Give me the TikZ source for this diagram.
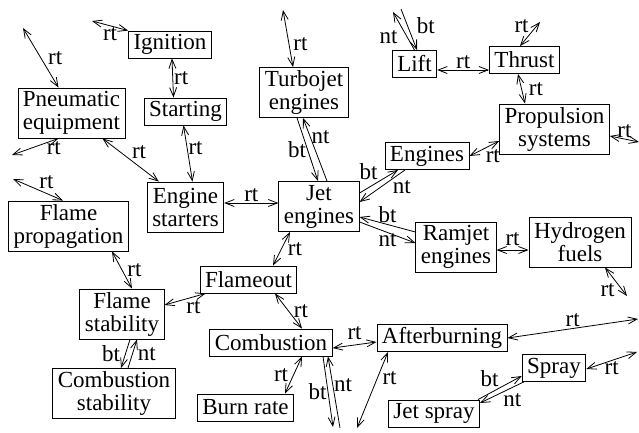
\documentclass[tikz,border=0pt]{standalone}
\usepackage{fontspec}
\setmainfont{Liberation Serif}
\newfontfamily\termfont{Liberation Serif}
\usetikzlibrary{arrows.meta}

\begin{document}
\begin{tikzpicture}[
    x=1pt, y=-1pt,
    font=\termfont\fontsize{23}{23}\selectfont,
    term/.style={
        draw, line width=0.9pt, rectangle, align=center,
        inner xsep=5pt, inner ysep=2pt, minimum height=27pt,
    },
    twoline/.style={term, minimum height=50pt},
    rel/.style={{Straight Barb[length=9pt,width=7pt]}-{Straight Barb[length=9pt,width=7pt]}, line width=0.8pt},
    one/.style={-{Straight Barb[length=9pt,width=7pt]}, line width=0.8pt},
    lbl/.style={inner sep=1pt},
]
\useasboundingbox (0,0) rectangle (639,432);

% ===== Terms =====
\node[term]    (ign)      at (170,44.5)  {Ignition};
\node[twoline] (pneu)     at (71.5,113)  {Pneumatic\\equipment};
\node[term]    (start)    at (185.5,111.5) {Starting};
\node[twoline] (estart)   at (185.5,207) {Engine\\starters};
\node[twoline] (turbo)    at (304,92.5)  {Turbojet\\engines};
\node[term]    (lift)     at (414.5,64)  {Lift};
\node[term]    (thrust)   at (524.5,60)  {Thrust};
\node[twoline] (prop)     at (554.5,129) {Propulsion\\systems};
\node[term]    (eng)      at (427,156)   {Engines};
\node[twoline] (jet)      at (319,206.5) {Jet\\engines};
\node[twoline] (ramjet)   at (456,247)   {Ramjet\\engines};
\node[twoline] (hydro)    at (580,242)   {Hydrogen\\fuels};
\node[twoline] (fprop)    at (68.5,226)  {Flame\\propagation};
\node[term]    (flameout) at (248.5,279.5) {Flameout};
\node[twoline] (fstab)    at (122,314)   {Flame\\stability};
\node[term]    (comb)     at (271,342.5) {Combustion};
\node[term]    (after)    at (442,338)   {Afterburning};
\node[term]    (spray)    at (554,368)   {Spray};
\node[twoline] (cstab)    at (114,393.5) {Combustion\\stability};
\node[term]    (burn)     at (245.5,407.5) {Burn rate};
\node[term]    (jspray)   at (434,413.5) {Jet spray};

% --- loose ends ---
\coordinate (ignfree)    at (92,21);
\coordinate (pneuup)     at (23,28);
\coordinate (pneulow)    at (12,155);
\coordinate (turboup)    at (283,10);
\coordinate (liftbt)     at (401,9);
\coordinate (liftnt)     at (393,12);
\coordinate (thrustup)   at (540,22);
\coordinate (propright)  at (639,142);
\coordinate (flamefree)  at (13,179);
\coordinate (combbt)     at (333,427);
\coordinate (combnt)     at (340,428);
\coordinate (afterdown)  at (357,428);
\coordinate (afterright) at (638,319);
\coordinate (hydrodown)  at (627,296);
\coordinate (sprayright) at (637,352);

% ===== Related terms =====
\draw[rel] (ignfree) -- node[lbl, below] {rt} (ign.north west);
\draw[rel] ([xshift=2pt]ign.south) -- node[lbl, right] {rt} ([xshift=-12pt]start.north);
\draw[rel] (pneuup) -- node[lbl, right=6pt] {rt} ([xshift=-13pt]pneu.north);
\draw[rel] ([xshift=-13pt]pneu.south) -- node[lbl, below, pos=0.1] {rt} (pneulow);
\draw[rel] ([xshift=31pt]pneu.south) -- node[lbl, above right] {rt} ([xshift=12pt]estart.north west);
\draw[rel] ([xshift=-2pt]start.south) -- node[lbl, right, pos=0.4] {rt} ([xshift=7pt]estart.north);
\draw[rel] ([yshift=4pt]estart.east) -- node[lbl, above] {rt} ([yshift=3.5pt]jet.west);
\draw[rel] (turboup) -- node[lbl, right=3pt, pos=0.6] {rt} ([xshift=-11pt]turbo.north);
\draw[rel] (eng.east) -- node[lbl, below right] {rt} ([yshift=-12pt]prop.west);
\draw[rel] ([yshift=-6pt]lift.east) -- node[lbl, above] {rt} ([yshift=-10pt]thrust.west);
\draw[rel] ([xshift=-4.5pt]thrust.north) -- node[lbl, above left] {rt} (thrustup);
\draw[rel] ([xshift=-6.5pt]thrust.south) -- node[lbl, right=6pt] {rt} ([xshift=-29.5pt]prop.north);
\draw[rel] ([yshift=-7pt]prop.east) -- node[lbl, above] {rt} (propright);
\draw[rel] ([xshift=-29pt]jet.south) -- node[lbl, right=5pt] {rt} ([xshift=24.5pt]flameout.north);
\draw[rel] ([xshift=26.5pt]flameout.south) -- node[lbl, right=4pt] {rt} ([xshift=31pt]comb.north);
\draw[rel] ([yshift=9pt]fstab.east) -- node[lbl, below right] {rt} ([xshift=6pt]flameout.south west);
\draw[rel] ([xshift=-5.5pt]fprop.north) -- node[lbl, above right] {rt} (flamefree);
\draw[rel] ([xshift=43.5pt]fprop.south) -- node[lbl, right=4pt] {rt} ([xshift=10pt]fstab.north);
\draw[rel] ([yshift=-5.5pt]comb.east) -- node[lbl, above=4pt] {rt} ([yshift=-4pt]after.west);
\draw[rel] ([xshift=31pt]comb.south) -- node[lbl, left=4pt] {rt} ([xshift=39.5pt]burn.north);
\draw[rel] ([xshift=-54pt]after.south) -- node[lbl, right=4pt, pos=0.35] {rt} (afterdown);
\draw[rel] (after.east) -- node[lbl, above] {rt} (afterright);
\draw[rel] ([xshift=25pt]hydro.south) -- node[lbl, below left] {rt} (hydrodown);
\draw[rel] ([yshift=-3pt]ramjet.east) -- node[lbl, above=3pt] {rt} ([yshift=-8pt]hydro.west);
\draw[rel] ([yshift=-1pt]spray.east) -- node[lbl, below] {rt} (sprayright);

% ===== Broader / narrower terms =====
\draw[one] ([xshift=-7pt]turbo.south) -- node[lbl, left] {bt} ([xshift=-1pt]jet.north);
\draw[one] ([xshift=8pt]jet.north) -- node[lbl, right, pos=0.7] {nt} ([xshift=-1pt]turbo.south);
\draw[one] ([yshift=13.5pt]jet.east) -- node[lbl, above left] {bt} ([xshift=-29pt]eng.south);
\draw[one] ([xshift=-22pt]eng.south) -- node[lbl, below right, pos=0.3] {nt} ([yshift=4.5pt]jet.east);
\draw[one] ([yshift=15pt]ramjet.west) -- node[lbl, above] {bt} ([yshift=-10.5pt]jet.east);
\draw[one] ([yshift=-15.5pt]jet.east) -- node[lbl, below] {nt} ([yshift=4pt]ramjet.west);
\draw[one] (liftbt) -- node[lbl, right=8pt, pos=0.4] {bt} ([xshift=2.5pt]lift.north);
\draw[one] (lift.north) -- node[lbl, left=8pt, pos=0.35] {nt} (liftnt);
\draw[one] ([xshift=8pt]fstab.south) -- node[lbl, left=4pt] {bt} ([xshift=7pt]cstab.north);
\draw[one] ([xshift=14pt]cstab.north) -- node[lbl, right=4pt] {nt} ([xshift=15pt]fstab.south);
\draw[one] ([xshift=52pt]comb.south) -- node[lbl, left] {bt} (combbt);
\draw[one] (combnt) -- node[lbl, right, pos=0.6] {nt} ([xshift=57pt]comb.south);
\draw[one] ([xshift=-2pt]jspray.north east) -- node[lbl, above left] {bt} ([yshift=-8pt]spray.west);
\draw[one] ([xshift=2pt]spray.south west) -- node[lbl, below right] {nt} ([yshift=10.5pt]jspray.east);

\end{tikzpicture}
\end{document}
